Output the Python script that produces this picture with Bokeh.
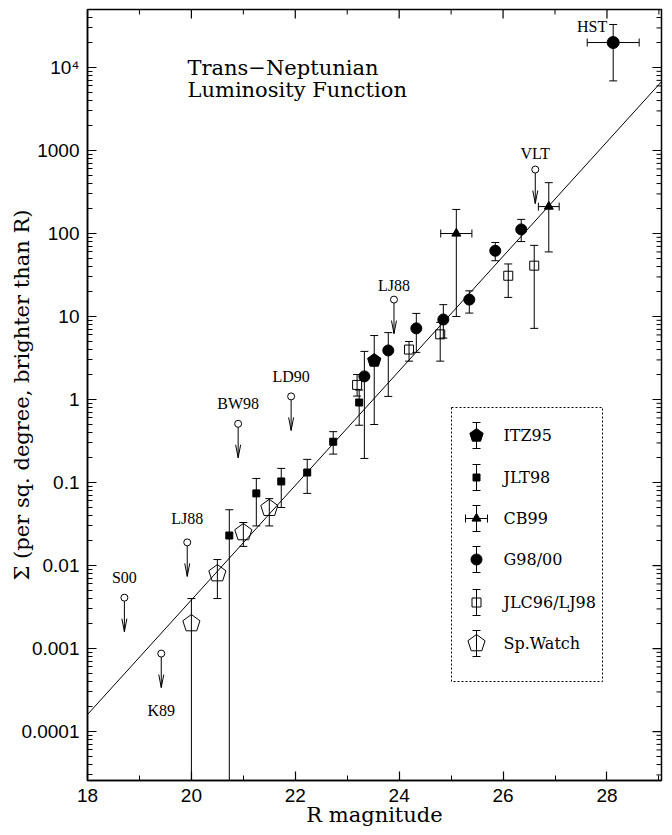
from bokeh.plotting import figure
from bokeh.models import Range1d, FixedTicker, Label
from bokeh.core.properties import value
from bokeh.embed import file_html
from bokeh.resources import INLINE

# ---------------- data ----------------
FIT_ALPHA = 0.69          # slope of log10(Sigma) vs R
FIT_R0 = 23.5             # R where Sigma = 1 / sq. deg
FIT_R = [18.0, 29.1]

ITZ95_R = [23.52]
ITZ95_S = [2.95]
ITZ95_LO = [0.50]
ITZ95_HI = [5.9]

JLT98_R = [20.73, 21.25, 21.73, 22.23, 22.73, 23.23]
JLT98_S = [0.023, 0.074, 0.103, 0.132, 0.31, 0.92]
JLT98_LO = [0.0, 0.030, 0.050, 0.074, 0.22, 0.49]
JLT98_HI = [0.047, 0.112, 0.148, 0.19, 0.41, 1.3]

CB99_R = [25.10, 26.88]
CB99_S = [100.0, 211.0]
CB99_LO = [10.0, 60.0]
CB99_HI = [195.0, 410.0]
CB99_DR = [0.30, 0.20]

G98_R = [23.33, 23.79, 24.33, 24.85, 25.35, 25.85, 26.35]
G98_S = [1.9, 3.9, 7.2, 9.2, 16.0, 62.0, 112.0]
G98_LO = [0.195, 1.09, 3.7, 5.5, 11.0, 47.0, 80.0]
G98_HI = [3.8, 6.4, 10.9, 13.9, 20.4, 78.0, 148.0]

JLC_R = [23.19, 24.19, 24.79, 26.10, 26.60]
JLC_S = [1.5, 4.0, 6.1, 31.0, 41.0]
JLC_LO = [1.1, 2.9, 2.9, 17.0, 7.2]
JLC_HI = [2.0, 5.0, 8.5, 43.0, 72.0]

SPW_R = [20.0, 20.5, 21.0, 21.5]
SPW_S = [0.002, 0.008, 0.025, 0.049]
SPW_LO = [0.0, 0.004, 0.017, 0.030]
SPW_HI = [0.004, 0.0118, 0.033, 0.064]

HST_R = [28.12]
HST_S = [20000.0]
HST_LO = [6900.0]
HST_HI = [33000.0]
HST_DR = [0.50]

LIM_NAME = ["S00", "K89", "LJ88", "BW98", "LD90", "LJ88", "VLT"]
LIM_R = [18.71, 19.42, 19.92, 20.90, 21.92, 23.90, 26.62]
LIM_S = [0.0041, 0.00087, 0.019, 0.51, 1.09, 16.0, 590.0]

LEGEND_NAMES = ["ITZ95", "JLT98", "CB99", "G98/00", "JLC96/LJ98", "Sp.Watch"]

X_TICKS = [18, 20, 22, 24, 26, 28]
Y_TICKS = [1e-4, 1e-3, 1e-2, 0.1, 1.0, 10.0, 100.0, 1000.0, 1e4]
Y_TICK_LABELS = ["0.0001", "0.001", "0.01", "0.1", "1", "10", "100", "1000", "10⁴"]

TITLE_LINES = ["Trans−Neptunian", "Luminosity Function"]
X_LABEL = "R magnitude"
Y_LABEL = "Σ (per sq. degree, brighter than R)"

# ---------------- layout ----------------
W, H = 672, 835
FL, FR, FT, FB = 87, 661, 9, 780
XMIN, XMAX = 18.0, 29.05
LYMIN, LYMAX = -4.59, 4.699
DX = (XMAX - XMIN) / (FR - FL)        # data units per pixel (x)
DLY = (LYMAX - LYMIN) / (FB - FT)     # decades per pixel (y)


def px_x(px):
    return XMIN + (px - FL) * DX


def px_y(py):
    return 10 ** (LYMAX - (py - FT) * DLY)


def shift_y(v, dpx):
    """move a log-scale value by dpx pixels (positive = up)"""
    return v * 10 ** (dpx * DLY)


SERIF = "DejaVu Serif"
SANS = "Liberation Sans"
CAP = 4          # half cap width, px
BLACK = "black"
MAJ_T, MIN_T = 9, 5

p = figure(width=W, height=H,
           x_range=Range1d(XMIN, XMAX), y_range=Range1d(10 ** LYMIN, 10 ** LYMAX),
           y_axis_type="log", output_backend="svg", toolbar_location=None,
           min_border_left=FL, min_border_right=W - FR,
           min_border_top=FT, min_border_bottom=H - FB)
p.grid.visible = False
p.outline_line_color = BLACK
p.outline_line_width = 1.5
p.background_fill_color = "white"
p.border_fill_color = "white"

X_MINOR = [v for v in range(18, 30) if v not in X_TICKS]
Y_MINOR = [k * 10.0 ** e for e in range(-5, 5) for k in range(2, 10)]
x_ticker = FixedTicker(ticks=X_TICKS, minor_ticks=X_MINOR)
y_ticker = FixedTicker(ticks=Y_TICKS, minor_ticks=Y_MINOR)

for ax in (p.xaxis[0], p.yaxis[0]):
    ax.axis_line_color = BLACK
    ax.axis_line_width = 1.5
    ax.major_tick_in = MAJ_T
    ax.major_tick_out = 0
    ax.minor_tick_in = MIN_T
    ax.minor_tick_out = 0
    ax.major_tick_line_width = 1.2
    ax.minor_tick_line_width = 1.0
    ax.major_tick_line_color = BLACK
    ax.minor_tick_line_color = BLACK
    ax.major_label_text_font = SANS
    ax.major_label_text_font_size = "19px"
    ax.major_label_text_color = BLACK
    ax.major_label_standoff = 8
    ax.axis_label_text_font = SERIF
    ax.axis_label_text_font_size = "21px"
    ax.axis_label_text_font_style = "normal"
    ax.axis_label_text_color = BLACK
p.xaxis[0].ticker = x_ticker
p.xaxis[0].axis_label = X_LABEL
p.xaxis[0].axis_label_standoff = -2
p.yaxis[0].ticker = y_ticker
p.yaxis[0].major_label_overrides = {t: s for t, s in zip(Y_TICKS, Y_TICK_LABELS)}
p.yaxis[0].axis_label = Y_LABEL
p.yaxis[0].axis_label_standoff = -16

# mirrored tick marks on the top and right edges of the frame
YTOP = 10 ** LYMAX
for ticks, ln, lw in ((X_TICKS, MAJ_T, 1.2), (X_MINOR, MIN_T, 1.0)):
    p.segment(x0=ticks, y0=[YTOP] * len(ticks), x1=ticks,
              y1=[shift_y(YTOP, -ln)] * len(ticks), line_color=BLACK, line_width=lw)
for ticks, ln, lw in ((Y_TICKS, MAJ_T, 1.2), (Y_MINOR, MIN_T, 1.0)):
    p.segment(x0=[XMAX] * len(ticks), y0=ticks, x1=[XMAX - ln * DX] * len(ticks),
              y1=ticks, line_color=BLACK, line_width=lw)

# ---------------- fit line ----------------
fit_S = [10 ** (FIT_ALPHA * (r - FIT_R0)) for r in FIT_R]
p.line(FIT_R, fit_S, line_color=BLACK, line_width=1)


# ---------------- error bars ----------------
def errorbars(xs, ys, lo, hi, dr=None):
    floor = 10 ** (LYMIN - 3)
    lo2 = [v if v > 0 else floor for v in lo]
    p.segment(x0=xs, y0=lo2, x1=xs, y1=hi, line_color=BLACK, line_width=1)
    for ends in (hi, lo2):
        p.segment(x0=[x - CAP * DX for x in xs], y0=ends,
                  x1=[x + CAP * DX for x in xs], y1=ends,
                  line_color=BLACK, line_width=1)
    if dr is not None:
        xl = [x - d for x, d in zip(xs, dr)]
        xr = [x + d for x, d in zip(xs, dr)]
        p.segment(x0=xl, y0=ys, x1=xr, y1=ys, line_color=BLACK, line_width=1)
        for ends in (xl, xr):
            p.segment(x0=ends, y0=[shift_y(y, -CAP) for y in ys],
                      x1=ends, y1=[shift_y(y, CAP) for y in ys],
                      line_color=BLACK, line_width=1)


errorbars(ITZ95_R, ITZ95_S, ITZ95_LO, ITZ95_HI)
errorbars(JLT98_R, JLT98_S, JLT98_LO, JLT98_HI)
errorbars(CB99_R, CB99_S, CB99_LO, CB99_HI, CB99_DR)
errorbars(G98_R, G98_S, G98_LO, G98_HI)
errorbars(JLC_R, JLC_S, JLC_LO, JLC_HI)
errorbars(SPW_R, SPW_S, SPW_LO, SPW_HI)
errorbars(HST_R, HST_S, HST_LO, HST_HI, HST_DR)


# ---------------- markers ----------------
def draw_markers(xs, ys, kind):
    if kind == "itz":
        p.ngon(x=xs, y=ys, radius=7, radius_units="screen", n=5,
               fill_color=BLACK, line_color=BLACK, line_width=1)
    elif kind == "jlt":
        p.scatter(xs, ys, marker="square", size=7, fill_color=BLACK, line_color=BLACK)
    elif kind == "cb":
        p.scatter(xs, ys, marker="triangle", size=9, fill_color=BLACK, line_color=BLACK)
    elif kind == "g98":
        p.scatter(xs, ys, marker="circle", size=11, fill_color=BLACK, line_color=BLACK)
    elif kind == "jlc":
        p.scatter(xs, ys, marker="square", size=9, fill_color=None, line_color=BLACK, line_width=1)
    elif kind == "spw":
        p.ngon(x=xs, y=ys, radius=9, radius_units="screen", n=5,
               fill_color=None, line_color=BLACK, line_width=1)
    elif kind == "hst":
        p.scatter(xs, ys, marker="circle", size=12, fill_color=BLACK, line_color=BLACK)


draw_markers(ITZ95_R, ITZ95_S, "itz")
draw_markers(JLT98_R, JLT98_S, "jlt")
draw_markers(CB99_R, CB99_S, "cb")
draw_markers(G98_R, G98_S, "g98")
draw_markers(JLC_R, JLC_S, "jlc")
draw_markers(SPW_R, SPW_S, "spw")
draw_markers(HST_R, HST_S, "hst")

# ---------------- upper limits ----------------
ARROW_LEN = 34     # px from circle centre to arrow tip
HEAD_LEN, HEAD_W = 13, 2.5
tips = [shift_y(s, -ARROW_LEN) for s in LIM_S]
p.segment(x0=LIM_R, y0=[shift_y(s, -3.5) for s in LIM_S], x1=LIM_R, y1=tips,
          line_color=BLACK, line_width=1)
for side in (-1, 1):
    p.segment(x0=LIM_R, y0=tips, x1=[r + side * HEAD_W * DX for r in LIM_R],
              y1=[shift_y(t, HEAD_LEN) for t in tips], line_color=BLACK, line_width=1)
p.scatter(LIM_R, LIM_S, marker="circle", size=7, fill_color=None,
          line_color=BLACK, line_width=1)
LIM_LABEL_DY = [-20, 57, -24, -20, -20, -14, -16]
for name, r, s, dy in zip(LIM_NAME, LIM_R, LIM_S, LIM_LABEL_DY):
    p.text(x=[r], y=[s], text=[name], y_offset=dy, text_align="center",
           text_baseline="middle", text_font=value("Liberation Serif"),
           text_font_size="16px", text_color=BLACK)
p.text(x=HST_R, y=HST_HI, text=["HST"], x_offset=-6, y_offset=2, text_align="right",
       text_baseline="middle", text_font=value("Liberation Serif"),
       text_font_size="16px", text_color=BLACK)

# ---------------- legend (drawn by hand, with error bars) ----------------
LEG_BOX = (451, 602, 407, 681)       # left, right, top, bottom (px)
LEG_MX, LEG_TX = 476, 503
LEG_ROWS = [435, 477, 518, 559, 602, 643]
LEG_KINDS = ["itz", "jlt", "cb", "g98", "jlc", "spw"]
bx0, bx1 = px_x(LEG_BOX[0]), px_x(LEG_BOX[1])
by0, by1 = px_y(LEG_BOX[2]), px_y(LEG_BOX[3])
p.line([bx0, bx1, bx1, bx0, bx0], [by0, by0, by1, by1, by0],
       line_color=BLACK, line_width=1, line_dash="2 2")
for row, kind in zip(LEG_ROWS, LEG_KINDS):
    mx, my = px_x(LEG_MX), px_y(row)
    dr = [11 * DX] if kind == "cb" else None
    errorbars([mx], [my], [shift_y(my, -13)], [shift_y(my, 13)], dr)
    draw_markers([mx], [my], kind)
p.text(x=[px_x(LEG_TX)] * len(LEGEND_NAMES), y=[px_y(r) for r in LEG_ROWS],
       text=LEGEND_NAMES, text_align="left", text_baseline="middle",
       text_font=value(SERIF), text_font_size="16px", text_color=BLACK)

# ---------------- title ----------------
for line, base in zip(TITLE_LINES, [67, 89]):
    p.add_layout(Label(x=187 - FL, y=FB - base, x_units="screen", y_units="screen",
                       text=line, text_align="left", text_baseline="alphabetic",
                       text_font=SERIF, text_font_size="21px", text_color=BLACK))

open("out.html", "w").write(file_html(p, INLINE))
